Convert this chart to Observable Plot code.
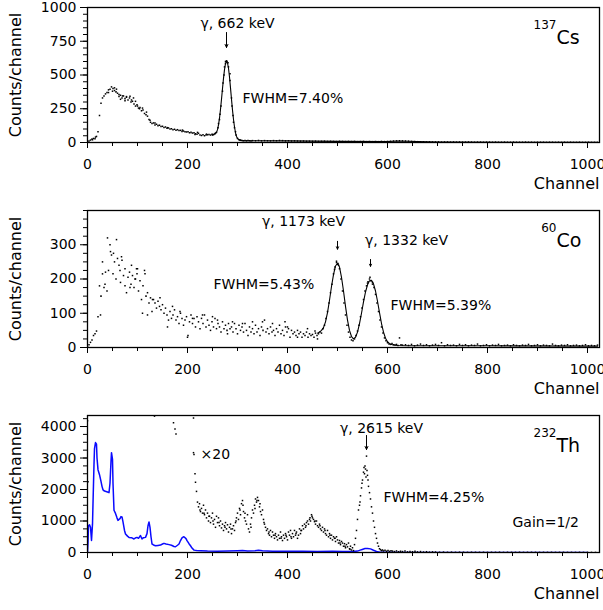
<!DOCTYPE html>
<html><head><meta charset="utf-8">
<script src="https://cdn.jsdelivr.net/npm/d3@7"></script>
<script src="https://cdn.jsdelivr.net/npm/@observablehq/plot@0.6"></script>
<style>body{margin:0;padding-top:2px;background:#fff;} #chart svg{display:block}</style>
</head><body><div id="chart"></div>
<script>
// ---------- ticks ----------
const xMajorTicks = [0, 200, 400, 600, 800, 1000];
const xMinorTicks = [0,50,100,150,200,250,300,350,400,450,500,550,600,650,700,750,800,850,900,950,1000];
const csYMajor = [0, 250, 500, 750, 1000];
const csYMinor = [0,50,100,150,200,250,300,350,400,450,500,550,600,650,700,750,800,850,900,950,1000];
const coYMajor = [0, 100, 200, 300];
const coYMinor = [0,25,50,75,100,125,150,175,200,225,250,275,300,325,350,375,400];
const thYMajor = [0, 1000, 2000, 3000, 4000];
const thYMinor = [0,250,500,750,1000,1250,1500,1750,2000,2250,2500,2750,3000,3250,3500,3750,4000,4250];

// ---------- 137Cs spectrum (counts per channel) ----------
const csMainStart = 0, csMainStep = 3;
const csMain = [
  5,12,18,25,30,28,45,80,200,290,
  330,345,360,370,390,395,412,400,385,375,
  365,340,350,330,345,325,335,315,330,300,
  305,285,270,280,255,260,235,240,215,205,
  195,170,150,140,145,130,135,125,128,118,
  120,112,115,105,108,100,102,95,98,90,
  95,88,90,82,85,80,78,80,72,75,
  70,72,65,62,68,55,52,58,50,55,
  57,60,55,62,58,65,75,110,170,270,
  380,500,585,600,560,460,330,200,110,55,
  30,20,16,14,13,15,12,14,13,12
];
const csTailStart = 330, csTailStep = 6;
const csTail = [
  14,13,15,12,14,13,12,14,13,15,14,12,13,11,12,11,
  10,11,9,10,9,10,8,9,10,8,9,8,7,9,8,7,8,7,8,6,7,8,6,7,6,7,6,8,7,8,
  9,11,12,13,12,11,10,8,7,6,
  5,5,4,5,4,4,5,3,4,4,3,4,3,4,3,3,4,3,2,3,3,2,3,3,2,3,2,2,3,2,
  2,3,2,2,2,3,2,2,1,2,2,2,1,2,2,1,2,1,2,1,2,1,1,2,1,1,2,1,1,1
];
const csExtra = [[63,355],[70,345],[78,340],[85,342],[92,330],[96,305],[50,380],[42,370],[66,320],[75,310],
  [88,315],[110,255],[118,225],[135,145],[160,110],[190,92],[220,75],[238,62],[250,55],[256,70],
  [276,600],[278,605],[271,440],[285,510],[289,270],[262,140],[274,560],[281,590],[265,210],[292,150],
  [296,80],[305,18],[215,60],[10,20],[16,40],[54,405],[58,395],[100,270],[104,250],[125,165]];
const csFit = [[250,60],[254,62],[258,75],[260,95],[262,130],[264,180],[266,245],[268,320],[270,400],[272,475],
  [274,540],[276,585],[278,600],[280,590],[282,550],[284,485],[286,405],[288,320],[290,240],[292,170],
  [294,115],[296,72],[298,45],[300,30],[304,18],[310,14],[320,13],[400,12],[500,8],[600,7],[620,11],[640,9],
  [700,4],[850,2],[1020,1]];

// ---------- 60Co spectrum ----------
const coMainStart = 0, coMainStep = 3;
const coMain = [
  2,8,15,22,35,40,48,90,180,150,
  215,175,220,165,225,300,270,215,250,200,
  260,240,190,255,210,230,160,205,220,185,
  210,175,200,215,165,195,140,180,225,150,
  160,130,145,105,140,130,115,135,120,110,
  125,100,115,95,80,105,85,95,110,80,
  90,70,100,85,65,80,90,35,75,95,
  70,85,60,90,75,55,85,70,95,60,
  80,65,50,75,60,85,55,70,60,45,
  75,55,65,50,70,55,60,45,70,55,
  40,65,50,60,45,70,50,35,60,45,
  55,40,65,45,55,35,60,50,80,45,
  55,40,60,45,50,35,55,45,65,40,
  50,35,60,45,55,30,50,40,45,35,
  50,40,45,30,40,35,45,30,40,35,
  38,30,42,35,40,45,42
];
const coPeakStart = 471, coPeakStep = 3;
const coPeak = [
  55,65,85,105,130,160,185,215,235,248,
  245,230,200,165,130,95,65,45,30,22,
  20,25,35,48,65,90,115,140,165,180,
  192,200,195,190,175,155,130,105,80,60,
  42,28,20,14,10,9,12,8,7,9,
  6,28,8,7
];
const coTailStart = 636, coTailStep = 6;
const coTail = [
  8,6,9,5,7,10,6,8,5,7,9,6,14,
  5,8,6,7,5,9,6,8,5,7,6,10,5,
  6,8,5,7,6,9,5,6,7,5,8,6,5,
  7,6,9,5,6,8,5,7,6,5,10,6,5,
  7,6,8,5,6,7,5,6,8,5,6,5,7
];
const coExtra = [[40,320],[58,315],[46,280],[52,275],[68,265],[30,250],[88,240],[98,230],[115,215],[26,95],
  [35,185],[75,180],[110,100],[120,95],[145,145],[160,60],[200,30],[230,95],[250,90],[290,75],
  [350,75],[395,75],[420,30],[440,55],[130,140],[95,200],[65,225],[85,175],[100,230],[170,120],
  [185,105],[210,85],[260,80],[280,40],[310,70],[330,75],[370,70],[400,60],[455,48],[460,25],
  [498,252],[502,240],[565,205],[570,185],[494,228],[560,188]];
const coFit = [[460,42],[464,45],[468,50],[472,58],[476,75],[480,102],[484,138],[488,178],[492,213],[496,238],
  [500,246],[504,235],[508,205],[512,165],[516,120],[520,80],[524,50],[528,32],[532,25],[536,30],
  [540,45],[544,70],[548,100],[552,133],[556,162],[560,183],[564,195],[568,196],[572,186],[576,165],
  [580,135],[584,102],[588,70],[592,45],[596,27],[600,17],[604,11],[610,8],[620,6],[640,5],[800,5],[1020,4]];

// ---------- 232Th spectrum (gain 1/2) ----------
const thLine = [[0,0],[1,300],[2,850],[4,880],[6,800],[8,380],[10,900],[11,1560],[13,2800],[14,3300],
  [16,3490],[18,3440],[19,3000],[21,2630],[24,2470],[27,2260],[29,2100],[31,1990],[34,1950],[37,1935],
  [40,1920],[43,1900],[45,2200],[47,2900],[48,3170],[50,2960],[51,2200],[53,1340],[56,1240],[59,1100],
  [61,1020],[63,1050],[65,1075],[67,1140],[69,1130],[71,970],[74,700],[76,590],[80,520],[83,480],
  [88,470],[93,430],[97,470],[99,480],[102,450],[106,540],[109,430],[112,470],[116,480],[119,600],
  [121,850],[123,970],[125,800],[127,500],[129,270],[132,240],[136,215],[141,225],[146,236],[150,270],
  [153,290],[157,270],[163,250],[168,230],[173,190],[176,183],[180,230],[183,270],[186,380],[189,462],
  [192,500],[194,484],[197,440],[199,376],[203,280],[206,215],[209,140],[213,75],[218,60],[226,54],
  [240,45],[260,40],[280,45],[300,55],[310,60],[320,48],[335,55],[342,70],[350,55],[370,42],
  [400,38],[430,40],[460,35],[490,38],[510,30],[530,28],[540,45],[548,90],[555,125],[560,130],
  [566,115],[572,70],[578,30],[585,8],[600,5],[650,3],[700,2],[800,1],[1000,0]];
// x20 magnified counts
const thX20Low = [[0,4180],[1,2245],[134,4330],[172,4120],[175,3920],[177,3760],[212,4270],[212,3170],[213,3110],[215,2500],[216,2230],[218,1940]];
const thX20MainStart = 220, thX20MainStep = 2;
const thX20Main = [
  1600,1450,1550,1300,1400,1250,1500,1200,1350,1100,
  1250,1000,1150,950,1100,1250,900,1050,800,1150,
  950,1100,850,1000,780,900,700,850,950,750,
  880,650,800,900,600,750,850,700,950,1100,
  1250,1050,1400,1200,1550,1650,1300,1100,1000,900,
  1200,750,650,900,1100,1350,1250,1500,1700,1600,
  1750,1650,1450,1300,1200,1350,1050,900,800,700,
  750,600,550,700,500,650,550,450,600,500,
  400,550,450,650,500,380,550,450,600,500,
  400,650,550,700,450,600,500,700,550,650,
  450,550,750,600,700,850,750,900,800,950,
  1000,900,1050,1000,1200,1100,1050,980,900,1000,
  850,800,900,750,700,800,650,750,600,550,
  700,500,600,450,550,400,500,450,350,500,
  400,300,380,250,350,300,200,280,150,250,
  180,300,120,200,80,150,60,250,450,700,
  1050,1350,1500,1800,2050,2300,2550
];
const thX20Extra = [[225,1350],[233,1250],[243,1150],[251,1000],[263,950],[275,800],[287,750],[297,1000],[305,1350],[311,1500],
  [315,1250],[327,800],[335,1400],[339,1650],[345,1550],[353,950],[363,650],[375,550],[387,450],[397,550],
  [407,500],[417,600],[427,700],[437,850],[445,1100],[449,1150],[455,1000],[465,850],[475,700],[485,550],
  [495,450],[505,300],[515,200],[525,100],[545,1600],[549,2200]];
const thX20Peak = [[553,2700],[554,2500],[555,2750],[556,2650],[557,2400],[558,3060],[559,2600],[560,2450],[561,2300],[562,2100],
  [564,1900],[566,1700],[568,1450],[570,1250],[572,1000],[574,800],[576,600],[578,450],[580,300],[582,200],
  [584,120],[586,90],[588,60],[590,80],[592,50],[595,70],[598,40],[601,60],[604,35],[607,55],
  [610,45],[614,30],[618,50],[622,25],[626,40],[630,30],[635,45],[640,20],[645,35],[650,25],
  [655,40],[660,20],[666,30],[672,15],[678,25],[684,12],[690,20]];
const thX20TailStart = 696, thX20TailStep = 8;
const thX20Tail = [15,8,12,6,10,5,9,7,4,8,6,5,7,4,6,5,8,3,6,5,4,7,3,5,6,4,3,5,4,6,3,4,5,3,4,2,5,3,4,3,2];

// ---------- annotations ----------
const csLabels = [{ch: 300, v: 881, t: "γ, 662 keV", a: "middle"}, {ch: 310, v: 326, t: "FWHM=7.40%", a: "start"}];
const csArrows = [{ch: 278, v1: 815, v2: 704}];
const coLabels = [{ch: 432, v: 368, t: "γ, 1173 keV", a: "middle"}, {ch: 638, v: 313, t: "γ, 1332 keV", a: "middle"},
  {ch: 252, v: 184, t: "FWHM=5.43%", a: "start"}, {ch: 606, v: 123, t: "FWHM=5.39%", a: "start"}];
const coArrows = [{ch: 500, v1: 310, v2: 287}, {ch: 566, v1: 257, v2: 237}];
const thLabels = [{ch: 588, v: 3940, t: "γ, 2615 keV", a: "middle"}, {ch: 226, v: 3110, t: "×20", a: "start"},
  {ch: 592, v: 1740, t: "FWHM=4.25%", a: "start"}, {ch: 850, v: 940, t: "Gain=1/2", a: "start"}];
const thArrows = [{ch: 558, v1: 3716, v2: 3270}];

// ---------- helpers ----------
const seg = (start, step, vals) => vals.map((v, i) => ({ch: start + i * step, v}));
const pairs = arr => arr.map(([ch, v]) => ({ch, v}));
const FONT = "DejaVu Sans";
const fmt = d3.format("d");

function dots(data) {
  return Plot.dot(data, {x: "ch", y: "v", r: 0.85, symbol: "square", fill: "black", clip: true});
}
function labels(data) {
  return [
    Plot.text(data.filter(d => d.a === "middle"), {x: "ch", y: "v", text: "t", textAnchor: "middle", fontSize: 14}),
    Plot.text(data.filter(d => d.a === "start"), {x: "ch", y: "v", text: "t", textAnchor: "start", fontSize: 14})
  ];
}
function arrows(data) {
  return Plot.arrow(data, {x1: "ch", x2: "ch", y1: "v1", y2: "v2", stroke: "black", strokeWidth: 1, headLength: 5, headAngle: 50});
}
function isotope(mass, sym) {
  return [
    Plot.text([mass], {text: d => d, frameAnchor: "top-right", dx: -43, dy: 13, textAnchor: "end", fontSize: 12}),
    Plot.text([sym], {text: d => d, frameAnchor: "top-right", dx: -43, dy: 23, textAnchor: "start", fontSize: 19})
  ];
}

function panel({height, marginTop, marginBottom, yDomain, yMajor, yMinor, marks}) {
  const yMid = (yDomain[0] + yDomain[1]) / 2;
  return Plot.plot({
    width: 603, height, marginLeft: 87, marginRight: 4, marginTop, marginBottom,
    style: {fontFamily: FONT, fontSize: "14px", color: "black", background: "white", overflow: "visible"},
    x: {domain: [0, 1024], label: null},
    y: {domain: yDomain, label: null},
    marks: [
      Plot.axisX(xMinorTicks, {tickSize: 4, tickFormat: () => "", label: null}),
      Plot.axisX(xMajorTicks, {tickSize: 6, tickPadding: 11, tickFormat: fmt, label: null, fontSize: 14}),
      Plot.axisY(yMinor, {tickSize: 4, tickFormat: () => "", label: null}),
      Plot.axisY(yMajor, {tickSize: 7, tickPadding: 4, tickFormat: fmt, label: null, fontSize: 14}),
      ...marks,
      Plot.frame({stroke: "black", strokeWidth: 1.3}),
      Plot.text(["Counts/channel"], {text: d => d, x: () => 0, y: () => yMid, dx: -72, rotate: -90, textAnchor: "middle", fontSize: 16}),
      Plot.text(["Channel"], {text: d => d, frameAnchor: "bottom-right", dy: 46, textAnchor: "end", fontSize: 16})
    ]
  });
}

const root = document.getElementById("chart");

root.append(panel({
  height: 204, marginTop: 5, marginBottom: 64, yDomain: [0, 1000], yMajor: csYMajor, yMinor: csYMinor,
  marks: [
    Plot.line(pairs(csFit), {x: "ch", y: "v", stroke: "black", strokeWidth: 1.1, clip: true}),
    dots(seg(csMainStart, csMainStep, csMain)),
    dots(seg(csTailStart, csTailStep, csTail)),
    dots(pairs(csExtra)),
    ...labels(csLabels), arrows(csArrows), ...isotope("137", "Cs")
  ]
}));

root.append(panel({
  height: 204, marginTop: 4, marginBottom: 63, yDomain: [0, 400], yMajor: coYMajor, yMinor: coYMinor,
  marks: [
    Plot.line(pairs(coFit), {x: "ch", y: "v", stroke: "black", strokeWidth: 1.1, clip: true}),
    dots(seg(coMainStart, coMainStep, coMain)),
    dots(seg(coPeakStart, coPeakStep, coPeak)),
    dots(seg(coTailStart, coTailStep, coTail)),
    dots(pairs(coExtra)),
    ...labels(coLabels), arrows(coArrows), ...isotope("60", "Co")
  ]
}));

root.append(panel({
  height: 200, marginTop: 5, marginBottom: 58, yDomain: [0, 4350], yMajor: thYMajor, yMinor: thYMinor,
  marks: [
    Plot.line(pairs(thLine), {x: "ch", y: "v", stroke: "#0a0aff", strokeWidth: 1.5, clip: true}),
    dots(pairs(thX20Low)),
    dots(seg(thX20MainStart, thX20MainStep, thX20Main)),
    dots(pairs(thX20Extra)),
    dots(pairs(thX20Peak)),
    dots(seg(thX20TailStart, thX20TailStep, thX20Tail)),
    ...labels(thLabels), arrows(thArrows), ...isotope("232", "Th")
  ]
}));
</script>
</body></html>
